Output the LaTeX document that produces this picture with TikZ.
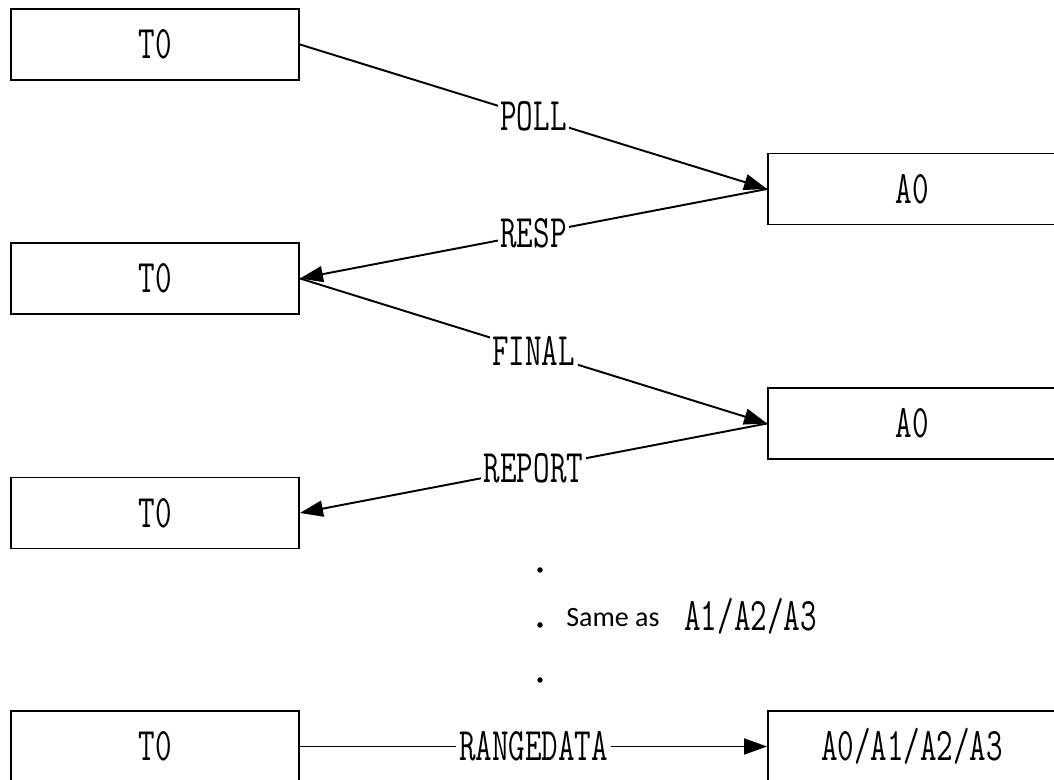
\documentclass[tikz,border=0pt]{standalone}
\usepackage{fontspec}
\newfontfamily\lblfont[FakeStretch=0.69]{Latin Modern Mono}
\newfontfamily\notefont{Carlito}
\usetikzlibrary{arrows.meta}

\begin{document}
\begin{tikzpicture}[
  box/.style={draw,line width=1.1pt,minimum width=5.76cm,minimum height=1.42cm,inner sep=0pt,font=\lblfont\fontsize{26.5}{28}\selectfont},
  msg/.style={line width=1.1pt,-{Triangle[length=4.6mm,width=3.2mm]}},
  lbl/.style={fill=white,inner sep=1.5pt,font=\lblfont\fontsize{26.5}{28}\selectfont},
  dot/.style={circle,fill=black,inner sep=0pt,minimum size=1.1mm}
]
\useasboundingbox (0,0) rectangle (21.08,15.6);
\clip (0,0) rectangle (21.08,15.6);

\node[box] (t1) at (3.1,14.71) {T0};
\node[box] (a1) at (18.24,11.82) {A0};
\node[box] (t2) at (3.1,10.03) {T0};
\node[box] (a2) at (18.24,7.13) {A0};
\node[box] (t3) at (3.1,5.34) {T0};
\node[box] (t4) at (3.1,0.67) {T0};
\node[box] (a3) at (18.24,0.67) {A0/A1/A2/A3};

\draw[msg] (t1.east) -- node[lbl] (poll) {POLL} (a1.west);
\draw[msg] (a1.west) -- node[lbl] (resp) {RESP} (t2.east);
\draw[msg] (t2.east) -- node[lbl] (final) {FINAL} (a2.west);
\draw[msg] (a2.west) -- node[lbl] (report) {REPORT} (t3.east);
\draw[msg] (t4.east) -- node[lbl] (range) {RANGEDATA} (a3.west);

\node[dot] (d1) at (10.8,4.2) {};
\node[dot] (d2) at (10.8,3.1) {};
\node[dot] (d3) at (10.8,2.0) {};
\node[font=\notefont\fontsize{15.9}{18}\selectfont,anchor=base west,inner sep=0pt] (same) at (11.32,3.06) {Same as};
\node[font=\lblfont\fontsize{26.5}{28}\selectfont,anchor=base west,inner sep=0pt] (rest) at (13.68,2.98) {A1/A2/A3};

\end{tikzpicture}
\end{document}
